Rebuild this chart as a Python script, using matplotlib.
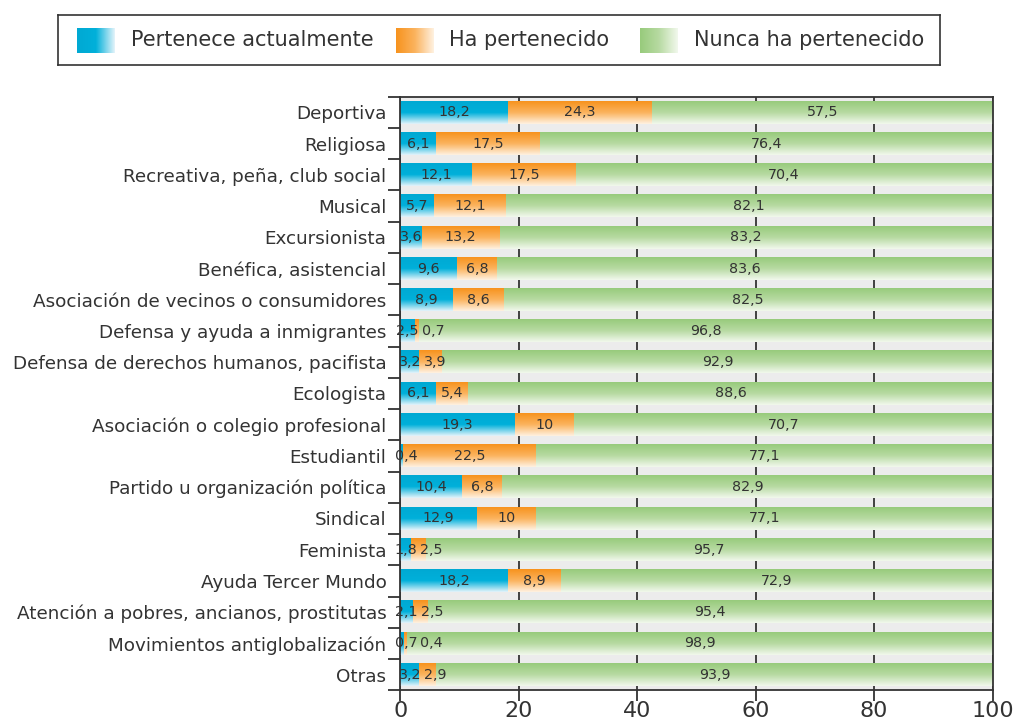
import numpy as np
import matplotlib
matplotlib.use('Agg')
import matplotlib.pyplot as plt
from matplotlib.colors import LinearSegmentedColormap

plt.rcParams['font.family'] = ['DejaVu Sans']

# datos (porcentajes)
categorias = ['Deportiva', 'Religiosa', 'Recreativa, peña, club social', 'Musical',
              'Excursionista', 'Benéfica, asistencial',
              'Asociación de vecinos o consumidores', 'Defensa y ayuda a inmigrantes',
              'Defensa de derechos humanos, pacifista', 'Ecologista',
              'Asociación o colegio profesional', 'Estudiantil',
              'Partido u organización política', 'Sindical', 'Feminista',
              'Ayuda Tercer Mundo', 'Atención a pobres, ancianos, prostitutas',
              'Movimientos antiglobalización', 'Otras']
actual = [18.2, 6.1, 12.1, 5.7, 3.6, 9.6, 8.9, 2.5, 3.2, 6.1, 19.3, 0.4, 10.4, 12.9, 1.8, 18.2, 2.1, 0.7, 3.2]
pasado = [24.3, 17.5, 17.5, 12.1, 13.2, 6.8, 8.6, 0.7, 3.9, 5.4, 10, 22.5, 6.8, 10, 2.5, 8.9, 2.5, 0.4, 2.9]
nunca = [57.5, 76.4, 70.4, 82.1, 83.2, 83.6, 82.5, 96.8, 92.9, 88.6, 70.7, 77.1, 82.9, 77.1, 95.7, 72.9, 95.4, 98.9, 93.9]
series = ['Pertenece actualmente', 'Ha pertenecido', 'Nunca ha pertenecido']

cmaps = [
    LinearSegmentedColormap.from_list('azul', ['#00a9d3', '#00b0da', '#e2f3fa']),
    LinearSegmentedColormap.from_list('naranja', ['#f7931e', '#fbb35e', '#fff1e0']),
    LinearSegmentedColormap.from_list('verde', ['#98cb7c', '#b7daa2', '#f1f8ec']),
]
grad_v = np.linspace(0, 1, 64).reshape(-1, 1)
grad_h = np.linspace(0, 1, 64).reshape(1, -1)

fig = plt.figure(figsize=(10.16, 7.22), dpi=100)
ax = fig.add_axes([0.394, 0.044, 0.583, 0.822])
ax.set_facecolor('#ececec')

n = len(categorias)
y = np.arange(n)
h = 0.72
for i in range(n):
    left = 0
    for k, val in enumerate([actual[i], pasado[i], nunca[i]]):
        ax.imshow(grad_v, cmap=cmaps[k], aspect='auto', origin='upper',
                  extent=(left, left + val, y[i] + h / 2, y[i] - h / 2), zorder=2)
        left += val
    # etiquetas
    xa = max(actual[i] / 2, 1.0)
    xp = max(actual[i] + pasado[i] / 2, xa + 4.3)
    xn = actual[i] + pasado[i] + nunca[i] / 2
    for xx, val in [(xa, actual[i]), (xp, pasado[i]), (xn, nunca[i])]:
        ax.text(xx, y[i], ('%g' % val).replace('.', ','), ha='center', va='center',
                fontsize=10.3, color='#333333', zorder=4)

ax.set_xlim(0, 100)
ax.set_ylim(n - 0.5, -0.5)
ax.set_xticks([0, 20, 40, 60, 80, 100])
ax.set_yticks(y)
ax.set_yticklabels(categorias, fontsize=13.2, color='#333333')
ax.set_yticks(np.arange(n + 1) - 0.5, minor=True)
ax.tick_params(axis='y', which='major', length=0, pad=10)
ax.tick_params(axis='y', which='minor', length=9, width=1.3, color='#333333')
ax.tick_params(axis='x', length=8, width=1.3, color='#333333', labelsize=16,
               labelcolor='#333333', pad=0)
ax.grid(axis='x', color='#333333', linewidth=1.3, zorder=1)
ax.set_axisbelow(True)
for s in ax.spines.values():
    s.set_color('#333333')
    s.set_linewidth(1.3)
    s.set_zorder(5)

# leyenda
lax = fig.add_axes([0.057, 0.91, 0.868, 0.069])
lax.set_xticks([])
lax.set_yticks([])
for s in lax.spines.values():
    s.set_color('#333333')
    s.set_linewidth(1.2)
posiciones = [0.0215, 0.383, 0.66]
for k, nombre in enumerate(series):
    x0 = posiciones[k]
    lax.imshow(grad_h, cmap=cmaps[k], aspect='auto',
               extent=(x0, x0 + 0.042, 0.25, 0.75))
    lax.text(x0 + 0.061, 0.5, nombre, ha='left', va='center', fontsize=15,
             color='#333333')
lax.set_xlim(0, 1)
lax.set_ylim(0, 1)

fig.savefig('out.png', dpi=100)
